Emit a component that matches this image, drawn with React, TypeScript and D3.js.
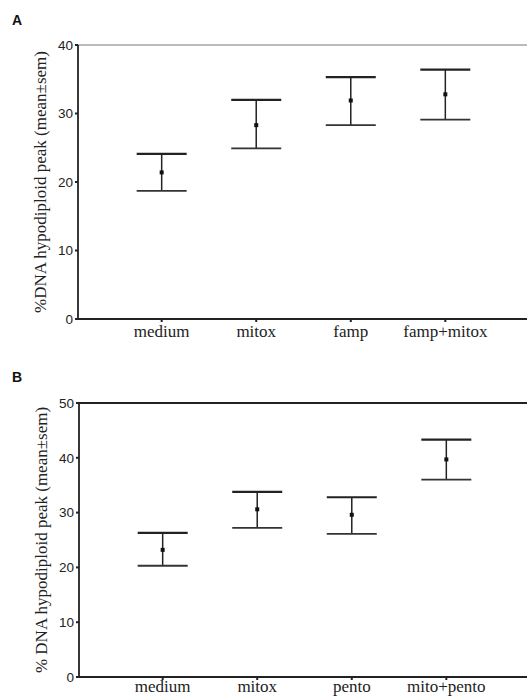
import React from 'react';
import * as d3 from 'd3';

// panel A
const catsA = ['medium', 'mitox', 'famp', 'famp+mitox'];
const meanA = [21.4, 28.3, 31.9, 32.8];
const upperA = [24.1, 32.0, 35.3, 36.4];
const lowerA = [18.7, 24.9, 28.3, 29.1];
const ticksA = [0, 10, 20, 30, 40];

// panel B
const catsB = ['medium', 'mitox', 'pento', 'mito+pento'];
const meanB = [23.2, 30.6, 29.6, 39.7];
const upperB = [26.3, 33.8, 32.8, 43.3];
const lowerB = [20.3, 27.2, 26.1, 36.0];
const ticksB = [0, 10, 20, 30, 40, 50];

const serif = '"Liberation Serif", "Times New Roman", serif';
const sans = '"Liberation Sans", Arial, sans-serif';

type PanelProps = {
  letter: string;
  letterY: number;
  title: string;
  cats: string[];
  mean: number[];
  upper: number[];
  lower: number[];
  ticks: number[];
  x0: number;
  top: number;
  bottom: number;
  titleX: number;
  labelY: number;
  topStroke: string;
  topWidth: number;
};

function Panel(p: PanelProps) {
  const yMax = p.ticks[p.ticks.length - 1];
  const y = d3.scaleLinear().domain([0, yMax]).range([p.bottom, p.top]);
  const x = d3.scalePoint<string>().domain(p.cats).range([p.x0, p.x0 + 451]).padding(0.885);
  const cap = 25;
  const midY = (p.top + p.bottom) / 2;

  return (
    <g>
      <text x={12} y={p.letterY} fontFamily={sans} fontWeight="bold" fontSize={14} fill="#111">
        {p.letter}
      </text>

      {/* frame */}
      <line x1={p.x0} x2={527} y1={p.top} y2={p.top} stroke={p.topStroke} strokeWidth={p.topWidth} />
      <line x1={p.x0} x2={527} y1={p.bottom} y2={p.bottom} stroke="#222" strokeWidth={2} />
      <line x1={p.x0} x2={p.x0} y1={p.top} y2={p.bottom} stroke="#222" strokeWidth={1.8} />

      {/* y ticks */}
      {p.ticks.map(t => (
        <g key={t}>
          <line x1={p.x0 - 3} x2={p.x0} y1={y(t)} y2={y(t)} stroke="#222" strokeWidth={2} />
          <text x={p.x0 - 5} y={y(t)} dy="0.36em" textAnchor="end" fontFamily={sans} fontSize={13.5} fill="#222">
            {t}
          </text>
        </g>
      ))}

      {/* x ticks and labels */}
      {p.cats.map(c => (
        <g key={c}>
          <line x1={x(c)} x2={x(c)} y1={p.bottom} y2={p.bottom + 3} stroke="#222" strokeWidth={2} />
          <text x={x(c)} y={p.labelY} textAnchor="middle" fontFamily={serif} fontSize={17} fill="#222">
            {c}
          </text>
        </g>
      ))}

      {/* error bars */}
      {p.cats.map((c, i) => {
        const cx = x(c) as number;
        return (
          <g key={c}>
            <line x1={cx} x2={cx} y1={y(p.upper[i])} y2={y(p.lower[i])} stroke="#222" strokeWidth={1.5} />
            <line x1={cx - cap} x2={cx + cap} y1={y(p.upper[i])} y2={y(p.upper[i])} stroke="#222" strokeWidth={2.2} />
            <line x1={cx - cap} x2={cx + cap} y1={y(p.lower[i])} y2={y(p.lower[i])} stroke="#333" strokeWidth={1.8} />
            <rect x={cx - 2} y={y(p.mean[i]) - 2} width={4} height={4} fill="#111" />
          </g>
        );
      })}

      <text
        transform={`translate(${p.titleX},${midY}) rotate(-90)`}
        textAnchor="middle"
        fontFamily={serif}
        fontSize={17}
        fill="#222"
      >
        {p.title}
      </text>
    </g>
  );
}

export default function App() {
  return (
    <svg
      width={527}
      height={697}
      style={{ position: 'absolute', left: 0, top: 0, background: '#fff' }}
    >
      <rect width={527} height={697} fill="#fff" />
      <Panel
        letter="A"
        letterY={25}
        title="%DNA hypodiploid peak (mean±sem)"
        cats={catsA}
        mean={meanA}
        upper={upperA}
        lower={lowerA}
        ticks={ticksA}
        x0={78}
        top={45}
        bottom={319}
        titleX={46}
        labelY={337}
        topStroke="#777"
        topWidth={1}
      />
      <Panel
        letter="B"
        letterY={382}
        title="% DNA hypodiploid peak (mean±sem)"
        cats={catsB}
        mean={meanB}
        upper={upperB}
        lower={lowerB}
        ticks={ticksB}
        x0={79}
        top={403}
        bottom={677}
        titleX={47}
        labelY={692}
        topStroke="#222"
        topWidth={2}
      />
    </svg>
  );
}
